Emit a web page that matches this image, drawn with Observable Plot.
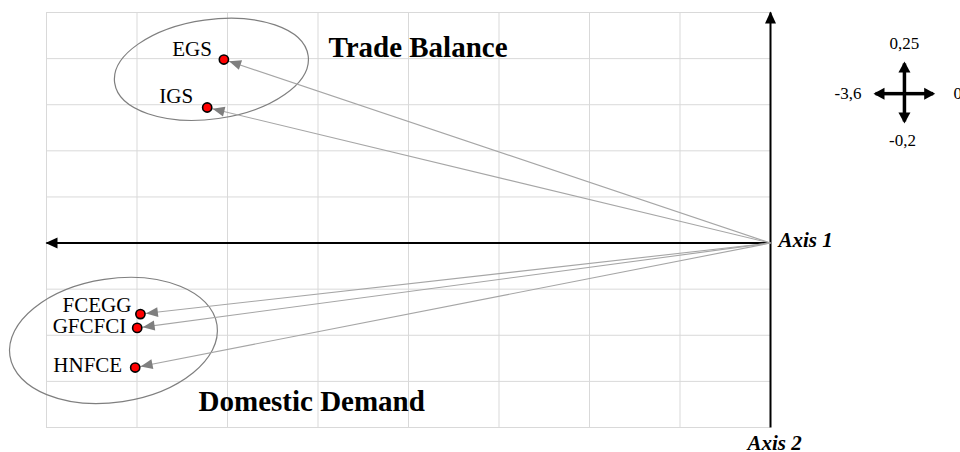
<!DOCTYPE html>
<html>
<head>
<meta charset="utf-8">
<script src="https://cdn.jsdelivr.net/npm/d3@7"></script>
<script src="https://cdn.jsdelivr.net/npm/@observablehq/plot@0.6"></script>
<style>
  html, body { margin: 0; padding: 0; background: #fff; }
  #chart svg { display: block; }
</style>
</head>
<body>
<div id="chart"></div>
<script>
// ---- Data ----
const variables = ["EGS", "IGS", "FCEGG", "GFCFCI", "HNFCE"];
const axis1 = [-2.718, -2.801, -3.133, -3.149, -3.159];
const axis2 = [0.199, 0.147, -0.077, -0.092, -0.135];
const groups = ["Trade Balance", "Domestic Demand"];
const groupCenterX = [-2.78, -3.267];
const groupCenterY = [0.1884, -0.1056];
const xTicks = [-3.6, -3.15, -2.7, -2.25, -1.8, -1.35, -0.9, -0.45, 0];
const yTicks = [-0.2, -0.15, -0.1, -0.05, 0, 0.05, 0.1, 0.15, 0.2, 0.25];
const scaleLabels = ["0,25", "-0,2", "-3,6", "0"];
const axisNames = ["Axis 1", "Axis 2"];

const points = variables.map((v, i) => ({name: v, x: axis1[i], y: axis2[i]}));
// label offsets in pixels
const labelOffset = {EGS: [-12, -10], IGS: [-14, -11], FCEGG: [-9, -9], GFCFCI: [-11, -2], HNFCE: [-13, -2]};
// ellipse shape styles (pixels / degrees)
const ellipseStyle = [{a: 97.7, b: 49.7, deg: 8}, {a: 104.7, b: 61.8, deg: 8.5}];

const serif = "'Liberation Serif', 'Times New Roman', serif";
const legendC = {x: 0.666, y: 0.162};

function ellipseSymbol(a, b, deg) {
  const t = -deg * Math.PI / 180;
  const c = Math.cos(t), s = Math.sin(t), k = 0.5523;
  const P = (x, y) => [x * c - y * s, x * s + y * c];
  return {
    draw(ctx) {
      ctx.moveTo(...P(a, 0));
      ctx.bezierCurveTo(...P(a, k * b), ...P(k * a, b), ...P(0, b));
      ctx.bezierCurveTo(...P(-k * a, b), ...P(-a, k * b), ...P(-a, 0));
      ctx.bezierCurveTo(...P(-a, -k * b), ...P(-k * a, -b), ...P(0, -b));
      ctx.bezierCurveTo(...P(k * a, -b), ...P(a, -k * b), ...P(a, 0));
      ctx.closePath();
    }
  };
}

function triMarker(d, fill) {
  return (color, context) => {
    const doc = (context && context.document) || document;
    const ns = "http://www.w3.org/2000/svg";
    const m = doc.createElementNS(ns, "marker");
    m.setAttribute("markerUnits", "userSpaceOnUse");
    m.setAttribute("markerWidth", "1");
    m.setAttribute("markerHeight", "1");
    m.setAttribute("orient", "auto");
    m.setAttribute("overflow", "visible");
    m.setAttribute("style", "overflow: visible");
    const p = doc.createElementNS(ns, "path");
    p.setAttribute("d", d);
    p.setAttribute("fill", fill);
    p.setAttribute("stroke", "none");
    m.appendChild(p);
    return m;
  };
}

function build(useCustom) {
  const vecHead = useCustom ? triMarker("M-17.5,-5L-5.5,0L-17.5,5Z", "#7f7f7f") : "arrow";
  const axisHead = useCustom ? triMarker("M-11,-5.5L1,0L-11,5.5Z", "#000") : "arrow";
  const legHead = useCustom ? triMarker("M-9,-6L2,0L-9,6Z", "#000") : "arrow";

  const marks = [
    Plot.gridX(xTicks, {y1: -0.2, y2: 0.25, stroke: "#d9d9d9", strokeOpacity: 1, strokeWidth: 1}),
    Plot.gridY(yTicks, {x1: -3.6, x2: 0, stroke: "#d9d9d9", strokeOpacity: 1, strokeWidth: 1}),
    // main axes
    Plot.link([0], {x1: 0, y1: 0, x2: -3.6, y2: 0, stroke: "#000", strokeWidth: 2, markerEnd: axisHead}),
    Plot.link([0], {x1: 0, y1: -0.2, x2: 0, y2: 0.25, stroke: "#000", strokeWidth: 2, markerEnd: axisHead}),
    // group ellipses
    ...groups.map((g, i) => Plot.dot([g], {
      x: () => groupCenterX[i], y: () => groupCenterY[i], r: 10,
      symbol: ellipseSymbol(ellipseStyle[i].a, ellipseStyle[i].b, ellipseStyle[i].deg),
      fill: "none", stroke: "#7f7f7f", strokeWidth: 1.2
    })),
    // vectors
    Plot.link(points, {x1: 0, y1: 0, x2: "x", y2: "y", stroke: "#a6a6a6", strokeWidth: 1.1, markerEnd: vecHead}),
    Plot.dot(points, {x: "x", y: "y", r: 4.6, fill: "#ff0000", stroke: "#000", strokeWidth: 1.6}),
    // group titles
    Plot.text([groups[0]], {x: -2.198, y: 0.212, text: d => d, textAnchor: "start", fontSize: 29, fontWeight: "bold", fontFamily: serif, fill: "#000"}),
    Plot.text([groups[1]], {x: -2.844, y: -0.1717, text: d => d, textAnchor: "start", fontSize: 29, fontWeight: "bold", fontFamily: serif, fill: "#000"}),
    // axis names
    Plot.text([axisNames[0]], {x: 0, y: 0, text: d => d, textAnchor: "start", dx: 8, dy: -3, fontSize: 21, fontWeight: "bold", fontStyle: "italic", fontFamily: serif, fill: "#000"}),
    Plot.text([axisNames[1]], {x: 0, y: -0.2, text: d => d, textAnchor: "middle", dx: 4, dy: 16, fontSize: 21, fontWeight: "bold", fontStyle: "italic", fontFamily: serif, fill: "#000"}),
    // scale legend cross
    Plot.link([0], {x1: legendC.x, y1: legendC.y, x2: 0.809, y2: legendC.y, stroke: "#000", strokeWidth: 3.5, markerEnd: legHead}),
    Plot.link([0], {x1: legendC.x, y1: legendC.y, x2: 0.522, y2: legendC.y, stroke: "#000", strokeWidth: 3.5, markerEnd: legHead}),
    Plot.link([0], {x1: legendC.x, y1: legendC.y, x2: legendC.x, y2: 0.1947, stroke: "#000", strokeWidth: 3.5, markerEnd: legHead}),
    Plot.link([0], {x1: legendC.x, y1: legendC.y, x2: legendC.x, y2: 0.1319, stroke: "#000", strokeWidth: 3.5, markerEnd: legHead}),
    Plot.text([scaleLabels[0]], {x: legendC.x, y: legendC.y, text: d => d, dy: -50, textAnchor: "middle", fontSize: 17, fontFamily: serif, fill: "#000"}),
    Plot.text([scaleLabels[1]], {x: legendC.x, y: legendC.y, text: d => d, dy: 47, dx: -2, textAnchor: "middle", fontSize: 17, fontFamily: serif, fill: "#000"}),
    Plot.text([scaleLabels[2]], {x: legendC.x, y: legendC.y, text: d => d, dx: -43, textAnchor: "end", fontSize: 17, fontFamily: serif, fill: "#000"}),
    Plot.text([scaleLabels[3]], {x: legendC.x, y: legendC.y, text: d => d, dx: 49, textAnchor: "start", fontSize: 17, fontFamily: serif, fill: "#000"})
  ];
  // variable labels
  for (const p of points) {
    const [dx, dy] = labelOffset[p.name];
    marks.push(Plot.text([p], {x: "x", y: "y", text: "name", dx, dy, textAnchor: "end", fontSize: 21, fontFamily: serif, fill: "#000"}));
  }

  return Plot.plot({
    width: 960,
    height: 452,
    marginLeft: 46,
    marginRight: 190,
    marginTop: 12,
    marginBottom: 25,
    x: {domain: [-3.6, 0], axis: null},
    y: {domain: [-0.2, 0.25], axis: null},
    style: {background: "#fff", overflow: "visible"},
    marks
  });
}

let chart;
try { chart = build(true); } catch (e) { chart = build(false); }
document.getElementById("chart").appendChild(chart);
</script>
</body>
</html>
